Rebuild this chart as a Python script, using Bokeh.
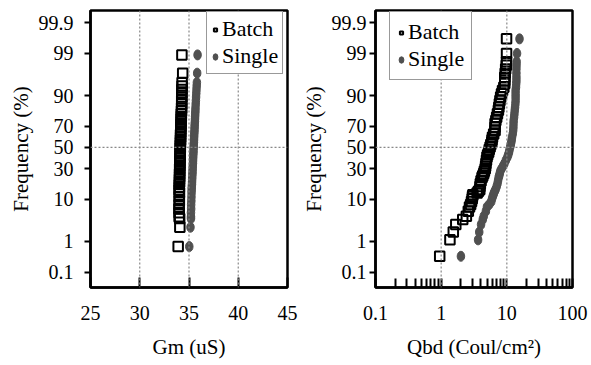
from statistics import NormalDist
from bokeh.plotting import figure
from bokeh.layouts import row
from bokeh.models import FixedTicker, Span, Legend, LegendItem, Range1d
from bokeh.embed import file_html
from bokeh.resources import INLINE

# ---------------- data ----------------
FREQ_TICKS = [0.1, 1, 10, 30, 50, 70, 90, 99, 99.9]
FREQ_LABELS = ["0.1", "1", "10", "30", "50", "70", "90", "99", "99.9"]

GM_TICKS = [25, 30, 35, 40, 45]
GM_GRID = [30, 35, 40]
QBD_TICKS = [0.1, 1, 10, 100]
QBD_LABELS = ["0.1", "1", "10", "100"]
QBD_GRID = [1, 10]

# cumulative frequency (%) of each Gm point
GM_FREQ = [0.7, 2.4, 3.9, 4.3, 5.3, 6.4, 7.8, 9.3, 11.1, 13.1,
           14.7, 16.2, 17.9, 19.6, 21.5, 23.4, 25.5, 27.6, 29.8, 32.1,
           34.5, 36.9, 39.4, 41.9, 44.4, 47.0, 49.6, 52.2, 54.8, 57.3,
           59.9, 62.4, 64.8, 67.2, 69.5, 71.7, 73.9, 76.0, 77.9, 79.8,
           81.6, 83.6, 85.8, 87.7, 89.4, 91.0, 92.4, 93.6, 94.6, 96.7, 98.9]
GM_BATCH = [33.90, 34.07, 34.05, 34.00, 34.00, 33.98, 34.00, 34.02, 34.00, 34.03,
            34.00, 34.02, 34.01, 34.04, 34.03, 34.05, 34.04, 34.06, 34.05, 34.07,
            34.08, 34.07, 34.09, 34.10, 34.09, 34.11, 34.12, 34.11, 34.13, 34.14,
            34.15, 34.14, 34.16, 34.17, 34.18, 34.18, 34.20, 34.21, 34.22, 34.22,
            34.24, 34.25, 34.26, 34.26, 34.27, 34.28, 34.28, 34.30, 34.30, 34.36, 34.28]
GM_SINGLE = [35.03, 35.15, 35.20, 35.20, 35.20, 35.22, 35.22, 35.24, 35.25, 35.26,
             35.27, 35.28, 35.30, 35.31, 35.32, 35.33, 35.35, 35.36, 35.37, 35.38,
             35.40, 35.41, 35.42, 35.43, 35.45, 35.46, 35.47, 35.48, 35.50, 35.51,
             35.52, 35.53, 35.55, 35.56, 35.57, 35.58, 35.60, 35.61, 35.62, 35.63,
             35.65, 35.66, 35.68, 35.70, 35.72, 35.74, 35.76, 35.78, 35.80, 35.83, 35.87]

# cumulative frequency (%) of each Qbd point
QBD_FREQ = [0.35, 1.1, 1.8, 2.8, 3.7, 4.4, 5.7, 7.0, 7.9, 9.0,
            10.2, 11.2, 12.1, 12.9, 13.9, 14.9, 16.6, 18.4, 20.5, 22.7,
            24.2, 25.8, 27.8, 29.8, 32.1, 34.5, 37.5, 40.5, 42.8, 45.2,
            47.8, 50.4, 52.8, 55.2, 57.5, 59.9, 63.1, 66.3, 69.2, 72.2,
            74.8, 77.3, 79.7, 82.1, 84.0, 86.0, 87.7, 89.4, 90.8, 92.1,
            93.2, 94.3, 95.1, 95.9, 96.7, 97.4, 97.9, 98.3, 99.0, 99.64]
QBD_BATCH = [0.95, 1.36, 1.53, 1.67, 2.13, 2.42, 2.59, 2.70, 2.81, 2.90,
             2.97, 3.00, 3.04, 3.53, 3.70, 3.87, 3.90, 3.95, 4.05, 4.19,
             4.30, 4.44, 4.55, 4.69, 4.75, 4.81, 4.90, 4.98, 5.10, 5.28,
             5.40, 5.56, 5.70, 5.90, 5.95, 6.05, 6.30, 6.62, 6.62, 6.62,
             6.80, 7.00, 7.20, 7.44, 7.55, 7.70, 7.85, 8.05, 8.30, 8.60,
             9.00, 9.30, 9.30, 9.30, 9.45, 9.60, 9.80, 9.90, 9.90, 9.90]
QBD_SINGLE = [2.00, 3.65, 3.80, 4.05, 4.30, 4.45, 4.80, 4.98, 5.40, 5.80,
              5.95, 6.10, 6.25, 6.35, 6.55, 6.75, 7.00, 7.20, 7.35, 7.50,
              7.65, 7.80, 7.95, 8.30, 8.75, 9.20, 9.67, 10.2, 10.5, 10.8,
              11.0, 11.25, 11.5, 11.7, 11.85, 12.0, 12.3, 12.5, 12.6, 12.65,
              12.7, 12.9, 13.05, 13.2, 13.35, 13.5, 13.6, 13.6, 13.6, 13.6,
              13.8, 13.9, 14.0, 14.0, 14.0, 14.0, 14.05, 14.1, 14.3, 15.6]

# ---------------- helpers ----------------
ND = NormalDist()


def probit(pcts):
    return [round(ND.inv_cdf(v / 100.0), 6) for v in pcts]


FONT = "'Liberation Serif', 'Times New Roman', Times, serif"
TICK_Z = probit(FREQ_TICKS)
Y_RANGE = (-3.47, 3.39)


def style(p, xlabel, ylab_standoff):
    p.outline_line_color = "black"
    p.outline_line_width = 2.5
    p.xgrid.visible = False
    p.ygrid.visible = False
    p.background_fill_color = "white"
    p.border_fill_color = "white"
    for ax in (p.xaxis[0], p.yaxis[0]):
        ax.axis_line_width = 2.5
        ax.axis_line_color = "black"
        ax.major_tick_line_width = 2
        ax.minor_tick_line_width = 2
        ax.major_tick_line_color = "black"
        ax.minor_tick_line_color = "black"
        ax.major_label_text_font = FONT
        ax.major_label_text_font_size = "20px"
        ax.major_label_text_color = "black"
        ax.axis_label_text_font = FONT
        ax.axis_label_text_font_size = "21px"
        ax.axis_label_text_font_style = "normal"
        ax.axis_label_text_color = "black"
    ya = p.yaxis[0]
    ya.ticker = FixedTicker(ticks=TICK_Z, minor_ticks=[])
    ya.major_label_overrides = {z: lab for z, lab in zip(TICK_Z, FREQ_LABELS)}
    ya.major_tick_in = 0
    ya.major_tick_out = 6
    ya.major_label_standoff = ylab_standoff
    ya.axis_label = "Frequency (%)"
    ya.axis_label_standoff = 3
    xa = p.xaxis[0]
    xa.axis_label = xlabel
    xa.major_tick_out = 0
    xa.minor_tick_out = 0
    xa.major_label_standoff = 18
    xa.axis_label_standoff = 12
    p.add_layout(Span(location=0, dimension="width", line_color="#888888",
                      line_width=1.2, line_dash="2 2"))


def add_points(p, x1, y1, x2, y2, loc, pad):
    r1 = p.scatter(x1, y1, marker="square", size=9.5, fill_color=None,
                   line_color="black", line_width=2)
    r2 = p.ellipse(x2, y2, width=7.5, height=10, width_units="screen",
                   height_units="screen", fill_color="#505050",
                   line_color="#505050")
    leg = Legend(items=[LegendItem(label="Batch", renderers=[r1]),
                        LegendItem(label="Single", renderers=[r2])],
                 location=loc)
    leg.label_text_font = FONT
    leg.label_text_font_size = "22px"
    leg.label_text_color = "black"
    leg.label_height = 23
    leg.glyph_width = 8
    leg.glyph_height = 9
    leg.label_standoff = 3
    leg.padding = pad
    leg.spacing = 1
    leg.margin = 0
    leg.border_line_color = "#333333"
    leg.border_line_width = 1
    leg.background_fill_alpha = 1
    p.add_layout(leg)


# ---------------- left panel ----------------
p1 = figure(frame_width=197, frame_height=277, output_backend="svg",
            toolbar_location=None,
            x_range=Range1d(25, 45), y_range=Range1d(*Y_RANGE),
            min_border_left=90, min_border_right=11, min_border_top=10,
            min_border_bottom=76)
style(p1, "Gm (uS)", 11)
p1.xaxis[0].ticker = FixedTicker(ticks=GM_TICKS, minor_ticks=[])
p1.xaxis[0].major_tick_in = 10
for g in GM_GRID:
    p1.add_layout(Span(location=g, dimension="height", line_color="#888888",
                       line_width=1.2, line_dash="2 2"))
add_points(p1, GM_BATCH, probit(GM_FREQ), GM_SINGLE, probit(GM_FREQ),
           (116, 213), 4)

# ---------------- right panel ----------------
p2 = figure(frame_width=197, frame_height=277, output_backend="svg",
            toolbar_location=None,
            x_axis_type="log", x_range=Range1d(0.1, 100),
            y_range=Range1d(*Y_RANGE),
            min_border_left=71, min_border_right=20, min_border_top=10,
            min_border_bottom=76)
style(p2, "Qbd (Coul/cm²)", 3)
minors = [m * d for d in (0.1, 1, 10) for m in range(2, 10)]
p2.xaxis[0].ticker = FixedTicker(ticks=QBD_TICKS, minor_ticks=minors)
p2.xaxis[0].major_label_overrides = {t: lab for t, lab in zip(QBD_TICKS, QBD_LABELS)}
p2.xaxis[0].major_tick_in = 9
p2.xaxis[0].minor_tick_in = 9
for g in QBD_GRID:
    p2.add_layout(Span(location=g, dimension="height", line_color="#888888",
                       line_width=1.2, line_dash="2 2"))
add_points(p2, QBD_BATCH, probit(QBD_FREQ), QBD_SINGLE, probit(QBD_FREQ),
           (14, 207), 7)

layout = row(p1, p2)
open("out.html", "w").write(file_html(layout, INLINE))
